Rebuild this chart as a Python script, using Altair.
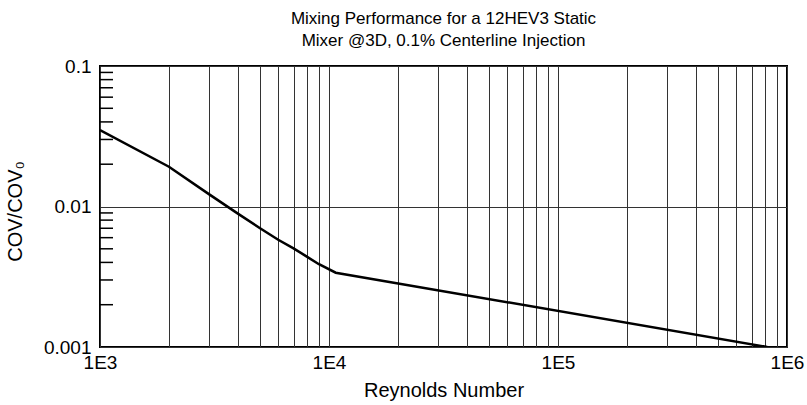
import altair as alt
import pandas as pd

# Data
reynolds = [1000, 2000, 3000, 4000, 5000, 6000, 7000, 8000, 9000, 10700, 820000]
cov_ratio = [0.035, 0.0192, 0.0122, 0.0089, 0.0070, 0.0058, 0.00503, 0.0044, 0.0039, 0.00338, 0.001]

x_grid = [m * 10 ** e for e in (3, 4, 5) for m in range(1, 10)] + [1000000]
y_major = [0.001, 0.01, 0.1]
y_minor = [round(m * 10.0 ** e, 6) for e in (-3, -2) for m in range(2, 10)]

FONT = "Liberation Sans"

df = pd.DataFrame({"re": reynolds, "cov": cov_ratio})
minor_df = pd.DataFrame({"cov": y_minor})

xs = alt.Scale(type="log", domain=[1000, 1000000], nice=False)
ys = alt.Scale(type="log", domain=[0.001, 0.1], nice=False)

y_axis = alt.Axis(
    values=y_major,
    grid=True,
    gridColor="#333333",
    gridWidth=1,
    ticks=False,
    domain=False,
    format="~g",
    labelOverlap=False,
    labelFlush=False,
    labelFont=FONT,
    labelFontSize=19,
    labelColor="black",
    labelPadding=9,
    title="COV/COV₀",
    titleFont=FONT,
    titleFontSize=20,
    titleFontWeight="normal",
    titleColor="black",
    titleX=-75,
    titleY=145,
)

line = alt.Chart(df).mark_line(color="black", strokeWidth=2.5, clip=True).encode(
    x=alt.X(
        "re:Q",
        scale=xs,
        axis=alt.Axis(
            values=x_grid,
            grid=True,
            gridColor="#333333",
            gridWidth=1,
            ticks=False,
            domain=False,
            labelOverlap=False,
            labelFlush=False,
            labelBound=False,
            labelExpr="indexof([1000,10000,100000,1000000], datum.value) >= 0 ? '1E' + round(log(datum.value)/LN10) : ''",
            labelFont=FONT,
            labelFontSize=19,
            labelColor="black",
            labelPadding=6,
            title="Reynolds Number",
            titleFont=FONT,
            titleFontSize=20,
            titleFontWeight="normal",
            titleColor="black",
            titlePadding=8,
        ),
    ),
    y=alt.Y("cov:Q", scale=ys, axis=y_axis),
)

minor = alt.Chart(minor_df).mark_rule(color="black", strokeWidth=1.5).encode(
    x=alt.value(0),
    x2=alt.value(13),
    y=alt.Y("cov:Q", scale=ys, axis=y_axis),
)

chart = (
    alt.layer(line, minor)
    .properties(
        width=687,
        height=281,
        autosize=alt.AutoSizeParams(type="none"),
        padding={"left": 100, "top": 66, "right": 20, "bottom": 58},
        title=alt.TitleParams(
            text=["Mixing Performance for a 12HEV3 Static", "Mixer @3D, 0.1% Centerline Injection"],
            font=FONT,
            fontSize=17,
            fontWeight="normal",
            color="black",
            anchor="middle",
            lineHeight=22,
            offset=7,
        ),
        background="white",
    )
    .configure_view(stroke="black", strokeWidth=2)
)

chart.save("out.html", embed_options={"renderer": "svg", "actions": False})
